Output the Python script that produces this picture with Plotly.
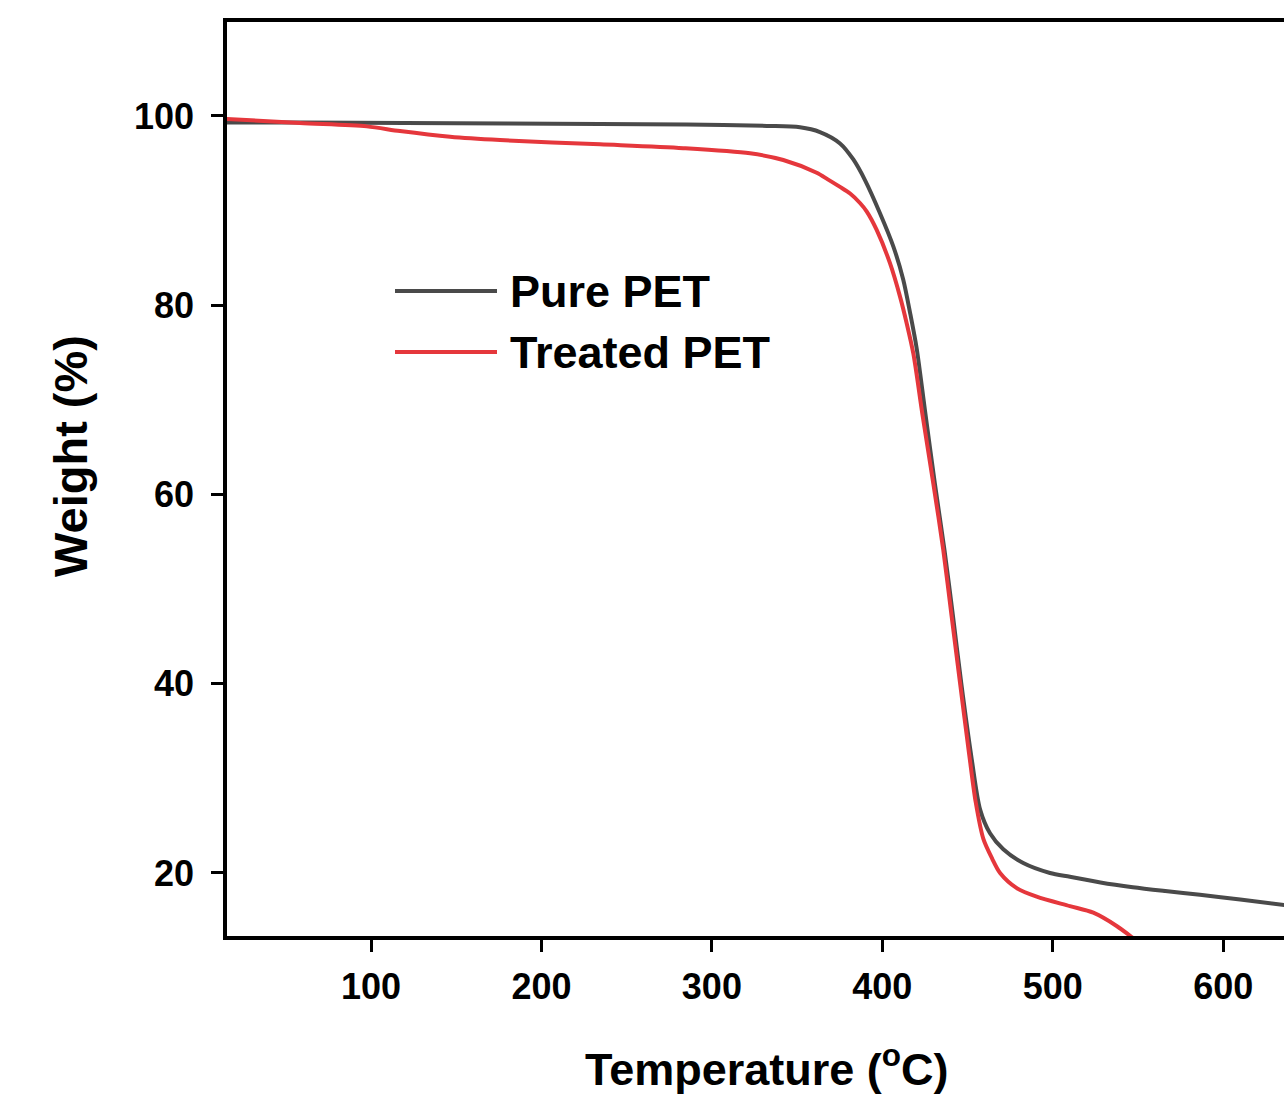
import plotly.graph_objects as go

# ---- data ----
temp_pure = [14.3, 60, 120, 180, 234.4, 285.2, 332.2, 351.7, 363.4, 375.2, 383, 389.9,
             398.7, 406.5, 412.3, 416.3, 420.2, 425.1, 430.8, 436.5, 441.5, 446.3, 452.5,
             457.4, 463.2, 471, 482.7, 498.4, 510.1, 528, 547, 566, 586.4, 610, 636]
weight_pure = [99.3, 99.3, 99.25, 99.2, 99.15, 99.1, 98.95, 98.8, 98.3, 97.1, 95.4, 93.2,
               89.7, 86.2, 82.7, 79.2, 75.4, 68.8, 61.2, 54.1, 47.1, 40.1, 32.0,
               26.7, 24.2, 22.5, 21.05, 20.0, 19.6, 19.0, 18.5, 18.1, 17.7, 17.2, 16.6]

temp_treated = [14.3, 58.3, 97.5, 117, 146.4, 175.7, 234.4, 283.2, 322.4, 341.9, 361.5,
                368, 375.2, 381.1, 386.9, 390.9, 396.7, 404.5, 410.4, 414.3, 418.2, 423.6,
                429.9, 435.8, 440.7, 445.6, 451, 454.8, 459.3, 464.5, 469.1, 478.9, 490.6,
                510.1, 523.8, 537.5, 547.3, 555]
weight_treated = [99.7, 99.25, 98.9, 98.4, 97.8, 97.45, 97.0, 96.6, 96.05, 95.35, 94.0,
                  93.3, 92.5, 91.8, 90.8, 89.9, 87.96, 84.44, 80.91, 78.1, 74.9, 68.4,
                  61.2, 54.1, 47.1, 40.1, 32.5, 27.5, 23.6, 21.5, 20.0, 18.4, 17.5,
                  16.5, 15.8, 14.4, 13.1, 12.0]

series_names = ["Pure PET", "Treated PET"]
series_colors = ["#4a4a4a", "#e5373c"]

x_ticks = [100, 200, 300, 400, 500, 600]
y_ticks = [20, 40, 60, 80, 100]
x_range = [15.5, 635.7]
y_range = [13.34, 109.93]

FONT = "Liberation Sans, Arial, sans-serif"

fig = go.Figure()
for xs, ys, name, col in [(temp_pure, weight_pure, series_names[0], series_colors[0]),
                          (temp_treated, weight_treated, series_names[1], series_colors[1])]:
    fig.add_trace(go.Scatter(x=xs, y=ys, mode="lines", name=name,
                             line=dict(color=col, width=4, shape="spline", smoothing=0.8),
                             showlegend=False, hoverinfo="skip"))

# the page body margin is removed below, so figure pixels = page pixels
W, H = 1284, 1108
PLOT_L, PLOT_R, PLOT_T, PLOT_B = 227, 1284, 22, 936
L, R, T, B = PLOT_L, W - PLOT_R, PLOT_T, H - PLOT_B


def px2paper(px, py):
    return (px - PLOT_L) / (PLOT_R - PLOT_L), (PLOT_B - py) / (PLOT_B - PLOT_T)


# manual legend
for i, (name, col) in enumerate(zip(series_names, series_colors)):
    py = 291 + i * 61
    x0, y0 = px2paper(395, py)
    x1, _ = px2paper(497, py)
    fig.add_shape(type="line", xref="paper", yref="paper", x0=x0, x1=x1, y0=y0, y1=y0,
                  line=dict(color=col, width=4))
    tx, ty = px2paper(508, py)
    fig.add_annotation(xref="paper", yref="paper", x=tx, y=ty, text=f"<b>{name}</b>",
                       showarrow=False, xanchor="left", yanchor="middle",
                       font=dict(family=FONT, size=45, color="black"))

# axis titles
ax, ay = px2paper(766, 1066)
fig.add_annotation(xref="paper", yref="paper", x=ax, y=ay,
                   text="<b>Temperature (<sup>o</sup>C)</b>", showarrow=False,
                   xanchor="center", yanchor="middle",
                   font=dict(family=FONT, size=45, color="black"))
bx, by = px2paper(70, 456)
fig.add_annotation(xref="paper", yref="paper", x=bx, y=by, text="<b>Weight (%)</b>",
                   showarrow=False, textangle=-90, xanchor="center", yanchor="middle",
                   font=dict(family=FONT, size=47, color="black"))

fig.update_layout(
    width=W, height=H,
    margin=dict(l=L, r=R, t=T, b=B, pad=0),
    paper_bgcolor="white", plot_bgcolor="white",
    font=dict(family=FONT, color="black"),
    hovermode=False,
)
fig.update_xaxes(range=x_range, tickvals=x_ticks, ticktext=[f"<b>{v}</b>" for v in x_ticks],
                 showgrid=False, zeroline=False, showline=True, linecolor="black",
                 linewidth=3.5, mirror=True, ticks="outside", ticklen=12, tickwidth=3,
                 tickcolor="black", ticklabelstandoff=4,
                 tickfont=dict(family=FONT, size=36, color="black"))
fig.update_yaxes(range=y_range, tickvals=y_ticks, ticktext=[f"<b>{v}</b>" for v in y_ticks],
                 showgrid=False, zeroline=False, showline=True, linecolor="black",
                 linewidth=3.5, mirror=False, ticks="outside", ticklen=12, tickwidth=3,
                 tickcolor="black", ticklabelstandoff=10,
                 tickfont=dict(family=FONT, size=36, color="black"))

fig.write_html("out.html",
               config={"displayModeBar": False},
               post_script="document.body.style.margin='0px';"
                           "document.body.style.overflow='hidden';")
